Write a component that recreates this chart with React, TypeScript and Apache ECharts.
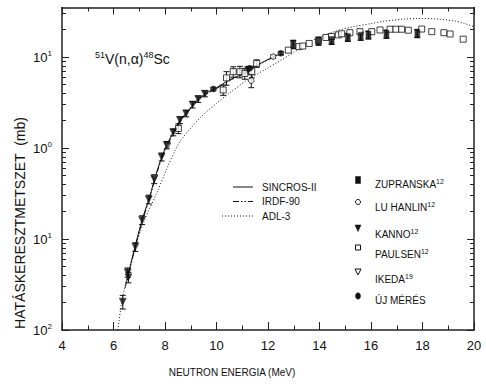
import React, { useEffect, useRef } from 'react';
import * as echarts from 'echarts';

// ---- calculated excitation functions (E in MeV, cross section in mb) ----
const sincrosE = [6.5, 6.8, 7.1, 7.4, 7.7, 8.0, 8.3, 8.6, 8.9, 9.2, 9.6, 10.0, 10.5, 11.0, 11.5, 12.0, 12.4];
const sincrosXS = [0.033, 0.075, 0.158, 0.29, 0.57, 0.98, 1.45, 2.05, 2.55, 3.25, 4.0, 4.6, 5.6, 6.5, 7.9, 9.4, 10.6];

const irdfE = [6.45, 6.8, 7.1, 7.4, 7.7, 8.0, 8.3, 8.6, 8.9, 9.2, 9.6, 10.0, 10.5, 11.0, 11.5, 12.0, 12.3];
const irdfXS = [0.029, 0.072, 0.15, 0.28, 0.55, 0.94, 1.4, 1.98, 2.5, 3.15, 3.9, 4.5, 5.5, 6.4, 7.8, 9.3, 10.2];

const adlE = [6.17, 6.33, 6.57, 6.87, 7.2, 7.7, 8.1, 8.4, 8.6, 9.0, 9.4, 10.0, 10.5, 11.2, 12.0, 12.5, 13.0, 13.5, 14.0, 14.7, 15.3, 16.0, 16.5, 17.2, 17.9, 18.5, 19.2, 19.6, 20.0];
const adlXS = [0.01, 0.021, 0.042, 0.086, 0.16, 0.33, 0.62, 0.95, 1.2, 1.65, 2.2, 3.1, 4.0, 5.6, 7.6, 9.2, 11.2, 14.0, 16.5, 19.5, 21.5, 23.3, 24.7, 26.0, 26.5, 26.2, 25.0, 23.5, 21.5];

// ---- measured data (E in MeV, cross section and its error in mb) ----
const zupranskaE = [12.98, 13.96, 14.47, 15.1, 15.6, 15.9, 16.6, 17.8];
const zupranskaXS = [13.8, 15.0, 15.3, 16.5, 17.0, 17.5, 17.9, 18.2];
const zupranskaErr = [1.4, 1.5, 1.5, 1.6, 1.7, 1.7, 1.8, 1.8];

const luHanlinE = [11.35, 12.2];
const luHanlinXS = [5.5, 10.1];
const luHanlinErr = [0.9, 0.4];

const kannoE = [6.36, 6.55, 6.58, 6.85, 7.11, 7.37, 7.58, 7.87, 8.07, 8.32, 8.58, 8.82, 9.07, 9.29, 9.55, 11.23];
const kannoXS = [0.0205, 0.043, 0.038, 0.082, 0.162, 0.273, 0.456, 0.8, 1.08, 1.49, 2.03, 2.4, 3.0, 3.45, 3.95, 7.2];
const kannoErr = [0.0035, 0.005, 0.005, 0.009, 0.018, 0.03, 0.05, 0.08, 0.1, 0.13, 0.18, 0.2, 0.25, 0.28, 0.3, 0.6];

const paulsenE = [8.52, 10.26, 10.39, 10.65, 10.91, 11.1, 11.37, 11.56, 12.79, 13.2, 13.35, 13.6, 13.96, 14.25, 14.47, 14.73, 14.86, 15.18, 15.57, 16.03, 16.35, 16.74, 16.97, 17.19, 17.45, 17.97, 18.36, 18.83, 19.07, 19.58];
const paulsenXS = [1.64, 4.34, 5.9, 6.9, 6.9, 6.6, 6.9, 8.5, 11.9, 13.0, 13.2, 14.1, 15.1, 16.4, 16.8, 17.5, 18.0, 18.5, 19.0, 19.0, 19.8, 20.2, 20.2, 20.2, 19.7, 20.3, 19.0, 18.5, 17.9, 15.7];
const paulsenErr = [0.2, 0.55, 1.0, 0.9, 1.0, 0.9, 1.0, 0.8, 0, 0, 0, 0, 0, 0, 0, 0, 0, 0, 0, 0, 0, 0, 0, 0, 0, 0, 0, 0, 0, 0];

const ikedaE = [7.6, 8.1];
const ikedaXS = [0.47, 1.05];

const ujMeresE = [9.88, 11.28, 12.5];
const ujMeresXS = [4.45, 7.5, 11.0];
const ujMeresErr = [0.2, 0.4, 0.5];

// ---- axes ----
const xTicks = [4, 6, 8, 10, 12, 14, 16, 18, 20];
const yMajor = [0.01, 0.1, 1, 10];
const yMajorExp = ['2', '1', '0', '1'];
const yMinor = [0.02, 0.03, 0.04, 0.05, 0.06, 0.07, 0.08, 0.09, 0.2, 0.3, 0.4, 0.5, 0.6, 0.7, 0.8, 0.9, 2, 3, 4, 5, 6, 7, 8, 9, 20, 30];

// ---- legends ----
const curveNames = ['SINCROS-II', 'IRDF-90', 'ADL-3'];
const markerNames = ['ZUPRANSKA', 'LU HANLIN', 'KANNO', 'PAULSEN', 'IKEDA', 'ÚJ MÉRÉS'];
const markerRefs = ['12', '12', '12', '12', '19', ''];

const FONT = '"Liberation Sans", Arial, Helvetica, sans-serif';
const INK = '#111';

const pairs = (xs: number[], ys: number[]) => xs.map((x, i) => [x, ys[i]]);

function errorBars(xs: number[], ys: number[], errs: number[], width = 1) {
  return {
    type: 'custom',
    silent: true,
    z: 2,
    clip: false,
    data: xs.map((x, i) => [x, ys[i], errs[i]]).filter((d) => d[2] > 0),
    encode: { x: 0, y: 1 },
    renderItem: (_p: any, api: any) => {
      const x = api.value(0);
      const y = api.value(1);
      const e = api.value(2);
      const hi = api.coord([x, y + e]);
      const lo = api.coord([x, y - e]);
      const cap = 3;
      const style = { stroke: INK, lineWidth: width };
      return {
        type: 'group',
        children: [
          { type: 'line', shape: { x1: hi[0], y1: hi[1], x2: lo[0], y2: lo[1] }, style },
          { type: 'line', shape: { x1: hi[0] - cap, y1: hi[1], x2: hi[0] + cap, y2: hi[1] }, style },
          { type: 'line', shape: { x1: lo[0] - cap, y1: lo[1], x2: lo[0] + cap, y2: lo[1] }, style },
        ],
      };
    },
  };
}

function markers(name: string, xs: number[], ys: number[], symbol: string, size: any, filled: boolean, rotate = 0) {
  return {
    type: 'scatter',
    name,
    z: 3,
    symbol,
    symbolSize: size,
    symbolRotate: rotate,
    itemStyle: filled
      ? { color: INK, borderColor: INK, borderWidth: 0.5 }
      : { color: '#fff', borderColor: INK, borderWidth: 1 },
    data: pairs(xs, ys),
  };
}

function curve(name: string, xs: number[], ys: number[], type: any) {
  return {
    type: 'line',
    name,
    z: 1,
    showSymbol: false,
    symbol: 'none',
    smooth: 0.3,
    lineStyle: { color: INK, width: 1, type },
    data: pairs(xs, ys),
  };
}

const IRDF_DASH = [6, 2, 1.5, 2, 1.5, 2];
const ADL_DASH = [1, 2];

const axisLine = { lineStyle: { color: '#222', width: 1.5 } };
const tickLine = { color: '#222', width: 1 };

function buildOption() {
  const yBase = {
    type: 'log',
    logBase: 10,
    min: 0.01,
    max: 35,
    splitLine: { show: false },
    minorTick: { show: false },
    minorSplitLine: { show: false },
  };
  const xBase = {
    type: 'value',
    min: 4,
    max: 20,
    interval: 2,
    splitLine: { show: false },
    axisLine,
    axisTick: { inside: true, length: 8, lineStyle: tickLine },
    minorTick: { show: true, splitNumber: 2, length: 4.5, lineStyle: tickLine },
  };

  const lineLegendY = [187, 201.5, 216];
  const markerY = [180, 202, 228, 247.5, 272, 296];
  const markerTextY = [184.5, 207, 234, 254.5, 279, 300];
  const mx = 358;

  const markerGlyph = (i: number) => {
    const y = markerY[i];
    const filled = { fill: INK, stroke: INK, lineWidth: 0.5 };
    const open = { fill: '#fff', stroke: INK, lineWidth: 1 };
    switch (i) {
      case 0:
        return { type: 'rect', shape: { x: mx - 2.5, y: y - 3.5, width: 5, height: 7 }, style: filled };
      case 1:
        return { type: 'circle', shape: { cx: mx, cy: y, r: 2.5 }, style: open };
      case 2:
        return { type: 'polygon', shape: { points: [[mx - 3, y - 3], [mx + 3, y - 3], [mx, y + 3.5]] }, style: filled };
      case 3:
        return { type: 'rect', shape: { x: mx - 2.5, y: y - 2.5, width: 5, height: 5 }, style: open };
      case 4:
        return { type: 'polygon', shape: { points: [[mx - 3, y - 3], [mx + 3, y - 3], [mx, y + 3]] }, style: open };
      default:
        return { type: 'ellipse', shape: { cx: mx, cy: y, rx: 2.5, ry: 3.2 }, style: filled };
    }
  };

  const supRich = {
    m: { fontSize: 10, fontFamily: FONT, fill: INK, lineHeight: 13 },
    s: { fontSize: 7, fontFamily: FONT, fill: INK, lineHeight: 8, verticalAlign: 'top' },
  };

  const graphic: any[] = [
    {
      type: 'text',
      x: 95,
      y: 59,
      style: {
        text: '{s|51}{m|V(n,α)}{s|48}{m|Sc}',
        verticalAlign: 'middle',
        rich: {
          m: { fontSize: 14, fontFamily: FONT, fill: INK, lineHeight: 18 },
          s: { fontSize: 9, fontFamily: FONT, fill: INK, lineHeight: 10, verticalAlign: 'top' },
        },
      },
    },
    {
      type: 'text',
      x: 20,
      y: 223,
      rotation: Math.PI / 2,
      style: {
        text: 'HATÁSKERESZTMETSZET  (mb)',
        fontSize: 14,
        fontFamily: FONT,
        fill: INK,
        align: 'center',
        verticalAlign: 'middle',
      },
    },
    {
      type: 'text',
      x: 232,
      y: 372,
      style: {
        text: 'NEUTRON ENERGIA (MeV)',
        fontSize: 10,
        fontFamily: FONT,
        fill: INK,
        align: 'center',
        verticalAlign: 'middle',
      },
    },
  ];

  const dashes: any[] = [null, IRDF_DASH, ADL_DASH];
  curveNames.forEach((n, i) => {
    const y = lineLegendY[i];
    graphic.push({
      type: 'line',
      shape: { x1: i === 2 ? 222 : 233, y1: y, x2: 253, y2: y },
      style: { stroke: INK, lineWidth: 1, lineDash: dashes[i] || undefined },
    });
    graphic.push({
      type: 'text',
      x: 262,
      y,
      style: { text: n, fontSize: 10, fontFamily: FONT, fill: INK, verticalAlign: 'middle' },
    });
  });

  markerNames.forEach((n, i) => {
    graphic.push(markerGlyph(i));
    graphic.push({
      type: 'text',
      x: 375,
      y: markerTextY[i],
      style: {
        text: markerRefs[i] ? `{m|${n}}{s|${markerRefs[i]}}` : `{m|${n}}`,
        verticalAlign: 'middle',
        rich: supRich,
      },
    });
  });

  return {
    animation: false,
    backgroundColor: '#fff',
    textStyle: { fontFamily: FONT },
    grid: { left: 62, right: 12, top: 7.5, bottom: 62, containLabel: false, outerBoundsMode: 'none' },
    xAxis: [
      {
        ...xBase,
        position: 'bottom',
        axisLabel: {
          fontSize: 13,
          color: INK,
          margin: 9,
          fontFamily: FONT,
          customValues: xTicks,
        },
      },
      {
        ...xBase,
        position: 'top',
        axisTick: { inside: true, length: 7, lineStyle: tickLine },
        minorTick: { show: true, splitNumber: 2, length: 4, lineStyle: tickLine },
        axisLabel: { show: false },
      },
    ],
    yAxis: [
      {
        ...yBase,
        position: 'left',
        axisLine,
        axisTick: { inside: true, length: 7, lineStyle: tickLine, customValues: yMajor },
        axisLabel: {
          customValues: yMajor,
          margin: 10,
          formatter: (v: number) => {
            let k = 0;
            yMajor.forEach((t, i) => {
              if (Math.abs(Math.log10(t) - Math.log10(v)) < Math.abs(Math.log10(yMajor[k]) - Math.log10(v))) k = i;
            });
            return `{b|10}{s|${yMajorExp[k]}}`;
          },
          rich: {
            b: { fontSize: 13, fontFamily: FONT, color: INK, lineHeight: 16 },
            s: { fontSize: 8, fontFamily: FONT, color: INK, lineHeight: 10, verticalAlign: 'top' },
          },
        },
      },
      {
        ...yBase,
        position: 'left',
        axisLine: { show: false },
        axisTick: { inside: true, length: 4, lineStyle: tickLine, customValues: yMinor },
        axisLabel: { show: false },
      },
      {
        ...yBase,
        position: 'right',
        axisLine,
        axisTick: { inside: true, length: 7, lineStyle: tickLine, customValues: yMajor },
        axisLabel: { show: false },
      },
      {
        ...yBase,
        position: 'right',
        axisLine: { show: false },
        axisTick: { inside: true, length: 4, lineStyle: tickLine, customValues: yMinor },
        axisLabel: { show: false },
      },
    ],
    series: [
      curve(curveNames[2], adlE, adlXS, ADL_DASH),
      curve(curveNames[1], irdfE, irdfXS, IRDF_DASH),
      curve(curveNames[0], sincrosE, sincrosXS, 'solid'),
      errorBars(kannoE, kannoXS, kannoErr),
      errorBars(paulsenE, paulsenXS, paulsenErr),
      errorBars(zupranskaE, zupranskaXS, zupranskaErr, 1.5),
      errorBars(luHanlinE, luHanlinXS, luHanlinErr),
      errorBars(ujMeresE, ujMeresXS, ujMeresErr),
      markers(markerNames[4], ikedaE, ikedaXS, 'triangle', 6, false, 180),
      markers(markerNames[3], paulsenE, paulsenXS, 'rect', 6, false),
      markers(markerNames[1], luHanlinE, luHanlinXS, 'circle', 5.5, false),
      markers(markerNames[0], zupranskaE, zupranskaXS, 'rect', [5, 7], true),
      markers(markerNames[2], kannoE, kannoXS, 'triangle', 7, true, 180),
      markers(markerNames[5], ujMeresE, ujMeresXS, 'circle', 6, true),
    ],
    graphic,
  };
}

export default function App() {
  const ref = useRef<HTMLDivElement>(null);
  useEffect(() => {
    document.body.style.margin = '0';
    if (!ref.current) return;
    const chart = echarts.init(ref.current, undefined, { renderer: 'svg' });
    chart.setOption(buildOption() as any);
    return () => chart.dispose();
  }, []);
  return <div ref={ref} style={{ width: 486, height: 392 }} />;
}
